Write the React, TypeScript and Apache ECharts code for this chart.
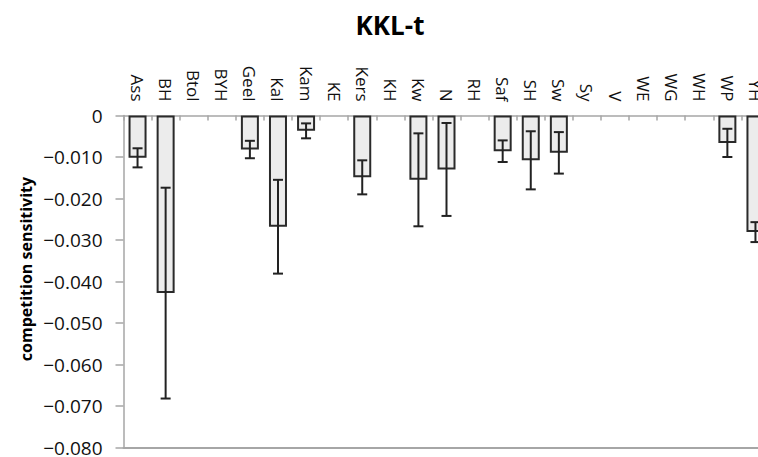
import React, { useEffect, useRef } from "react";
import * as echarts from "echarts";

const categories = ["Ass", "BH", "Btol", "BYH", "Geel", "Kal", "Kam", "KE", "Kers", "KH", "Kw", "N", "RH", "Saf", "SH", "Sw", "Sy", "V", "WE", "WG", "WH", "WP", "YH"];
const values: (number | null)[] = [-0.0102, -0.0428, null, null, -0.0082, -0.0268, -0.0037, null, -0.0149, null, -0.0155, -0.013, null, -0.0086, -0.0108, -0.009, null, null, null, null, null, -0.0066, -0.0281];
const errors: (number | null)[] = [0.0023, 0.0254, null, null, 0.0021, 0.0113, 0.0018, null, 0.0041, null, 0.0112, 0.0112, null, 0.0026, 0.007, 0.005, null, null, null, null, null, 0.0034, 0.0024];
const yTicks = { min: -0.08, max: 0, interval: 0.01 };
const titleText = "KKL-t";
const yName = "competition sensitivity";

export default function App() {
  const ref = useRef<HTMLDivElement>(null);
  useEffect(() => {
    if (!ref.current) return;
    const chart = echarts.init(ref.current, null, { renderer: "svg" });
    const errData: number[][] = [];
    values.forEach((v, i) => {
      const e = errors[i];
      if (v != null && e != null) errData.push([i, v - e, v + e]);
    });
    const font = "'Open Sans', 'Noto Sans', sans-serif";
    chart.setOption({
      animation: false,
      graphic: [
        {
          type: "text",
          x: 390,
          y: 25,
          style: { text: titleText, font: `bold 26px ${font}`, fill: "#000", textAlign: "center", textVerticalAlign: "middle" },
        },
        {
          type: "text",
          x: 26,
          y: 269,
          rotation: Math.PI / 2,
          style: { text: yName, font: `bold 16px ${font}`, fill: "#000", textAlign: "center", textVerticalAlign: "middle" },
        },
      ],
      grid: { left: 123.5, right: 30.5, top: 115.5, bottom: 9, containLabel: false },
      xAxis: [
        {
          type: "category",
          data: categories,
          position: "top",
          axisLine: { show: true, onZero: false, lineStyle: { color: "#a6a6a6", width: 1.5 } },
          axisTick: { show: true, inside: true, length: 5, lineStyle: { color: "#a6a6a6", width: 1.5 } },
          axisLabel: { rotate: 90, margin: 14, fontFamily: font, fontSize: 17, color: "#111" },
        },
        {
          type: "category",
          data: categories,
          position: "bottom",
          axisLine: { show: true, onZero: false, lineStyle: { color: "#a6a6a6", width: 2 } },
          axisTick: { show: false },
          axisLabel: { show: false },
        },
      ],
      yAxis: {
        type: "value",
        min: yTicks.min,
        max: yTicks.max,
        interval: yTicks.interval,
        axisLine: { show: true, lineStyle: { color: "#a6a6a6", width: 1.5 } },
        axisTick: { show: true, length: 8, lineStyle: { color: "#a6a6a6", width: 1.5 } },
        splitLine: { show: false },
        axisLabel: {
          margin: 21,
          fontFamily: font,
          fontSize: 19,
          color: "#111",
          formatter: (v: number) => (Math.abs(v) < 1e-9 ? "0" : "\u2212" + Math.abs(v).toFixed(3)),
        },
      },
      series: [
        {
          type: "bar",
          data: values,
          barWidth: 18,
          itemStyle: { color: "#ececec", borderColor: "#2a2a2a", borderWidth: 2 },
        },
        {
          type: "custom",
          data: errData,
          z: 5,
          renderItem: (params: any, api: any) => {
            const x = api.value(0);
            const lo = api.coord([x, api.value(1)]);
            const hi = api.coord([x, api.value(2)]);
            const h = 5;
            const st = { stroke: "#222", lineWidth: 2 };
            return {
              type: "group",
              children: [
                { type: "line", shape: { x1: lo[0], y1: lo[1], x2: hi[0], y2: hi[1] }, style: st },
                { type: "line", shape: { x1: lo[0] - h, y1: lo[1], x2: lo[0] + h, y2: lo[1] }, style: st },
                { type: "line", shape: { x1: hi[0] - h, y1: hi[1], x2: hi[0] + h, y2: hi[1] }, style: st },
              ],
            };
          },
        },
      ],
    });
    return () => chart.dispose();
  }, []);
  return (
    <div style={{ position: "fixed", left: 0, top: 0, width: 758, height: 457, overflow: "hidden", background: "#fff" }}>
      <div ref={ref} style={{ width: 800, height: 457 }} />
    </div>
  );
}
